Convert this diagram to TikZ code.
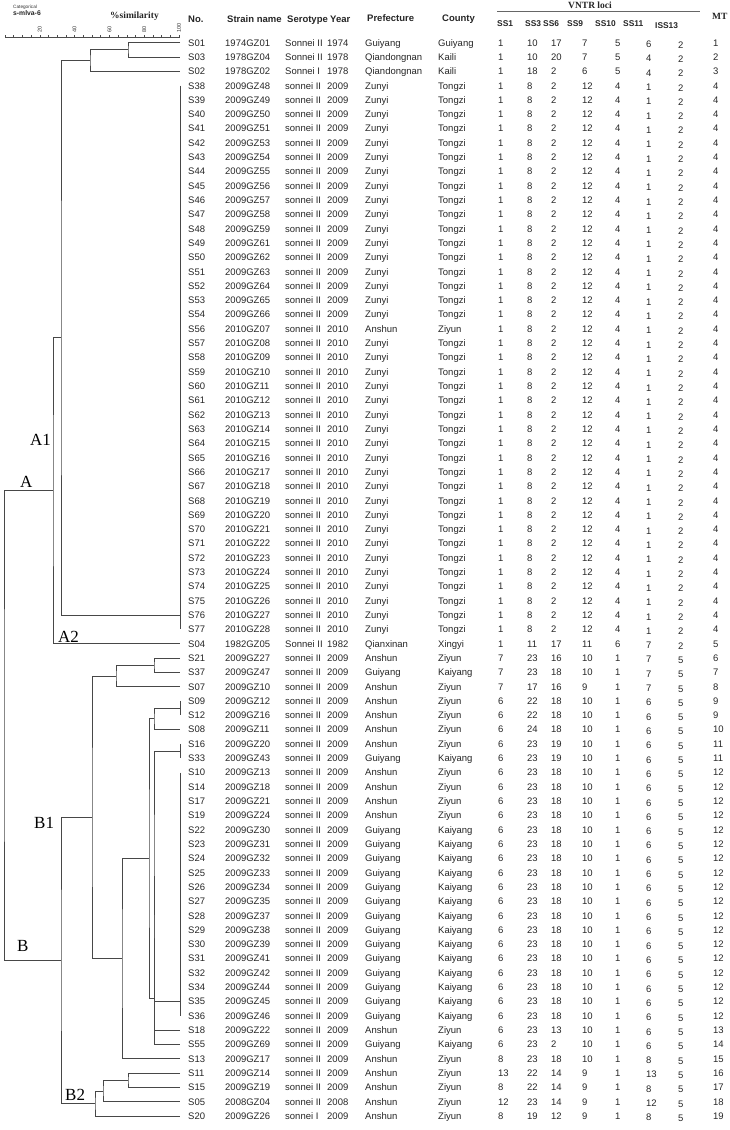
\documentclass[tikz,border=0pt]{standalone}
\usepackage{fontspec}
\setmainfont{Liberation Sans}
\newfontfamily\serifz{Liberation Serif}
\newcommand\elbow[3]{\draw[dend] (#1) -| (#2) |- (#3);}
\begin{document}
\begin{tikzpicture}[x=1pt,y=-1pt,
  dend/.style={draw=black!72,line width=0.8pt},
  cell/.style={anchor=base west,inner sep=0pt,font=\fontsize{9.5}{11}\selectfont,text=black!85},
  hd/.style={anchor=base west,inner sep=0pt,font=\fontsize{9.5}{11}\selectfont\bfseries,text=black!85},
  lhd/.style={anchor=base west,inner sep=0pt,font=\fontsize{8.4}{10}\selectfont\bfseries,text=black!85},
  shd/.style={anchor=base west,inner sep=0pt,font=\serifz\fontsize{9.5}{11}\selectfont\bfseries,text=black!85},
  clab/.style={anchor=base west,inner sep=0pt,font=\serifz\fontsize{17}{17}\selectfont,text=black},
  axl/.style={anchor=west,inner sep=0pt,rotate=90,font=\fontsize{5.5}{6}\selectfont,text=black!80}]
\useasboundingbox (0,0) rectangle (730,1130);
% ---------- header ----------
\node[anchor=base west,inner sep=0pt,font=\fontsize{4.7}{5}\selectfont,text=black!80] (cat) at (13,8) {Categorical};
\node[anchor=base west,inner sep=0pt,font=\fontsize{6.8}{7}\selectfont\bfseries,text=black!85] (mlva) at (13,15) {s-mlva-6};
\node[shd] (sim) at (110,18) {\%similarity};
\coordinate (ax0) at (5,37);
\coordinate (ax1) at (180,37);
\draw[black!70,line width=0.5pt] (ax0) -- (ax1);
\foreach \k in {0,...,20} {\draw[black!70,line width=0.5pt] ({5+\k*8.7},37) -- ({5+\k*8.7},35);}
\foreach \v in {20,40,60,80,100} {\node[axl] (ax\v) at ({5+\v*1.74},33) {\v};}
\node[hd] (hno) at (188,22) {No.};
\node[hd] (hsn) at (227,22) {Strain name};
\node[hd] (hst) at (287,22) {Serotype};
\node[hd] (hyr) at (330,22) {Year};
\node[hd] (hpf) at (367,21) {Prefecture};
\node[hd] (hct) at (442,21) {County};
\node[shd] (hvn) at (568,8) {VNTR loci};
\coordinate (vl0) at (497,11);
\coordinate (vl1) at (700,11);
\draw[black!60,line width=0.7pt] (vl0) -- (vl1);
\node[shd] (hmt) at (712,19) {MT};
\node[lhd] (h1) at (497,26) {SS1};
\node[lhd] (h2) at (525,26) {SS3};
\node[lhd] (h3) at (543,26) {SS6};
\node[lhd] (h4) at (567,26) {SS9};
\node[lhd] (h5) at (595,26.5) {SS10};
\node[lhd] (h6) at (623,26.5) {SS11};
\node[lhd] (h7) at (655,28.5) {ISS13};
% ---------- table ----------
\foreach \nn/\sn/\st/\yr/\pf/\ct/\va/\vb/\vc/\vd/\ve/\vf/\vg/\mt [count=\i] in {
S01/1974GZ01/Sonnei II/1974/Guiyang/Guiyang/1/10/17/7/5/6/2/1,
S03/1978GZ04/Sonnei II/1978/Qiandongnan/Kaili/1/10/20/7/5/4/2/2,
S02/1978GZ02/Sonnei I/1978/Qiandongnan/Kaili/1/18/2/6/5/4/2/3,
S38/2009GZ48/sonnei II/2009/Zunyi/Tongzi/1/8/2/12/4/1/2/4,
S39/2009GZ49/sonnei II/2009/Zunyi/Tongzi/1/8/2/12/4/1/2/4,
S40/2009GZ50/sonnei II/2009/Zunyi/Tongzi/1/8/2/12/4/1/2/4,
S41/2009GZ51/sonnei II/2009/Zunyi/Tongzi/1/8/2/12/4/1/2/4,
S42/2009GZ53/sonnei II/2009/Zunyi/Tongzi/1/8/2/12/4/1/2/4,
S43/2009GZ54/sonnei II/2009/Zunyi/Tongzi/1/8/2/12/4/1/2/4,
S44/2009GZ55/sonnei II/2009/Zunyi/Tongzi/1/8/2/12/4/1/2/4,
S45/2009GZ56/sonnei II/2009/Zunyi/Tongzi/1/8/2/12/4/1/2/4,
S46/2009GZ57/sonnei II/2009/Zunyi/Tongzi/1/8/2/12/4/1/2/4,
S47/2009GZ58/sonnei II/2009/Zunyi/Tongzi/1/8/2/12/4/1/2/4,
S48/2009GZ59/sonnei II/2009/Zunyi/Tongzi/1/8/2/12/4/1/2/4,
S49/2009GZ61/sonnei II/2009/Zunyi/Tongzi/1/8/2/12/4/1/2/4,
S50/2009GZ62/sonnei II/2009/Zunyi/Tongzi/1/8/2/12/4/1/2/4,
S51/2009GZ63/sonnei II/2009/Zunyi/Tongzi/1/8/2/12/4/1/2/4,
S52/2009GZ64/sonnei II/2009/Zunyi/Tongzi/1/8/2/12/4/1/2/4,
S53/2009GZ65/sonnei II/2009/Zunyi/Tongzi/1/8/2/12/4/1/2/4,
S54/2009GZ66/sonnei II/2009/Zunyi/Tongzi/1/8/2/12/4/1/2/4,
S56/2010GZ07/sonnei II/2010/Anshun/Ziyun/1/8/2/12/4/1/2/4,
S57/2010GZ08/sonnei II/2010/Zunyi/Tongzi/1/8/2/12/4/1/2/4,
S58/2010GZ09/sonnei II/2010/Zunyi/Tongzi/1/8/2/12/4/1/2/4,
S59/2010GZ10/sonnei II/2010/Zunyi/Tongzi/1/8/2/12/4/1/2/4,
S60/2010GZ11/sonnei II/2010/Zunyi/Tongzi/1/8/2/12/4/1/2/4,
S61/2010GZ12/sonnei II/2010/Zunyi/Tongzi/1/8/2/12/4/1/2/4,
S62/2010GZ13/sonnei II/2010/Zunyi/Tongzi/1/8/2/12/4/1/2/4,
S63/2010GZ14/sonnei II/2010/Zunyi/Tongzi/1/8/2/12/4/1/2/4,
S64/2010GZ15/sonnei II/2010/Zunyi/Tongzi/1/8/2/12/4/1/2/4,
S65/2010GZ16/sonnei II/2010/Zunyi/Tongzi/1/8/2/12/4/1/2/4,
S66/2010GZ17/sonnei II/2010/Zunyi/Tongzi/1/8/2/12/4/1/2/4,
S67/2010GZ18/sonnei II/2010/Zunyi/Tongzi/1/8/2/12/4/1/2/4,
S68/2010GZ19/sonnei II/2010/Zunyi/Tongzi/1/8/2/12/4/1/2/4,
S69/2010GZ20/sonnei II/2010/Zunyi/Tongzi/1/8/2/12/4/1/2/4,
S70/2010GZ21/sonnei II/2010/Zunyi/Tongzi/1/8/2/12/4/1/2/4,
S71/2010GZ22/sonnei II/2010/Zunyi/Tongzi/1/8/2/12/4/1/2/4,
S72/2010GZ23/sonnei II/2010/Zunyi/Tongzi/1/8/2/12/4/1/2/4,
S73/2010GZ24/sonnei II/2010/Zunyi/Tongzi/1/8/2/12/4/1/2/4,
S74/2010GZ25/sonnei II/2010/Zunyi/Tongzi/1/8/2/12/4/1/2/4,
S75/2010GZ26/sonnei II/2010/Zunyi/Tongzi/1/8/2/12/4/1/2/4,
S76/2010GZ27/sonnei II/2010/Zunyi/Tongzi/1/8/2/12/4/1/2/4,
S77/2010GZ28/sonnei II/2010/Zunyi/Tongzi/1/8/2/12/4/1/2/4,
S04/1982GZ05/Sonnei II/1982/Qianxinan/Xingyi/1/11/17/11/6/7/2/5,
S21/2009GZ27/sonnei II/2009/Anshun/Ziyun/7/23/16/10/1/7/5/6,
S37/2009GZ47/sonnei II/2009/Guiyang/Kaiyang/7/23/18/10/1/7/5/7,
S07/2009GZ10/sonnei II/2009/Anshun/Ziyun/7/17/16/9/1/7/5/8,
S09/2009GZ12/sonnei II/2009/Anshun/Ziyun/6/22/18/10/1/6/5/9,
S12/2009GZ16/sonnei II/2009/Anshun/Ziyun/6/22/18/10/1/6/5/9,
S08/2009GZ11/sonnei II/2009/Anshun/Ziyun/6/24/18/10/1/6/5/10,
S16/2009GZ20/sonnei II/2009/Anshun/Ziyun/6/23/19/10/1/6/5/11,
S33/2009GZ43/sonnei II/2009/Guiyang/Kaiyang/6/23/19/10/1/6/5/11,
S10/2009GZ13/sonnei II/2009/Anshun/Ziyun/6/23/18/10/1/6/5/12,
S14/2009GZ18/sonnei II/2009/Anshun/Ziyun/6/23/18/10/1/6/5/12,
S17/2009GZ21/sonnei II/2009/Anshun/Ziyun/6/23/18/10/1/6/5/12,
S19/2009GZ24/sonnei II/2009/Anshun/Ziyun/6/23/18/10/1/6/5/12,
S22/2009GZ30/sonnei II/2009/Guiyang/Kaiyang/6/23/18/10/1/6/5/12,
S23/2009GZ31/sonnei II/2009/Guiyang/Kaiyang/6/23/18/10/1/6/5/12,
S24/2009GZ32/sonnei II/2009/Guiyang/Kaiyang/6/23/18/10/1/6/5/12,
S25/2009GZ33/sonnei II/2009/Guiyang/Kaiyang/6/23/18/10/1/6/5/12,
S26/2009GZ34/sonnei II/2009/Guiyang/Kaiyang/6/23/18/10/1/6/5/12,
S27/2009GZ35/sonnei II/2009/Guiyang/Kaiyang/6/23/18/10/1/6/5/12,
S28/2009GZ37/sonnei II/2009/Guiyang/Kaiyang/6/23/18/10/1/6/5/12,
S29/2009GZ38/sonnei II/2009/Guiyang/Kaiyang/6/23/18/10/1/6/5/12,
S30/2009GZ39/sonnei II/2009/Guiyang/Kaiyang/6/23/18/10/1/6/5/12,
S31/2009GZ41/sonnei II/2009/Guiyang/Kaiyang/6/23/18/10/1/6/5/12,
S32/2009GZ42/sonnei II/2009/Guiyang/Kaiyang/6/23/18/10/1/6/5/12,
S34/2009GZ44/sonnei II/2009/Guiyang/Kaiyang/6/23/18/10/1/6/5/12,
S35/2009GZ45/sonnei II/2009/Guiyang/Kaiyang/6/23/18/10/1/6/5/12,
S36/2009GZ46/sonnei II/2009/Guiyang/Kaiyang/6/23/18/10/1/6/5/12,
S18/2009GZ22/sonnei II/2009/Anshun/Ziyun/6/23/13/10/1/6/5/13,
S55/2009GZ69/sonnei II/2009/Guiyang/Kaiyang/6/23/2/10/1/6/5/14,
S13/2009GZ17/sonnei II/2009/Anshun/Ziyun/8/23/18/10/1/8/5/15,
S11/2009GZ14/sonnei II/2009/Anshun/Ziyun/13/22/14/9/1/13/5/16,
S15/2009GZ19/sonnei II/2009/Anshun/Ziyun/8/22/14/9/1/8/5/17,
S05/2008GZ04/sonnei II/2008/Anshun/Ziyun/12/23/14/9/1/12/5/18,
S20/2009GZ26/sonnei I/2009/Anshun/Ziyun/8/19/12/9/1/8/5/19} {
  \pgfmathsetmacro\ry{42.7+(\i-1)*14.31}
  \pgfmathsetmacro\rb{\ry+3.4}
  \coordinate (L\i) at (180,\ry);
  \node[cell] (no\i) at (188,\rb) {\nn};
  \node[cell] (sn\i) at (225,\rb) {\sn};
  \node[cell] (st\i) at (285,\rb) {\st};
  \node[cell] (yr\i) at (327,\rb) {\yr};
  \node[cell] (pf\i) at (365,\rb) {\pf};
  \node[cell] (ct\i) at (438,\rb) {\ct};
  \node[cell] (va\i) at (498,\rb) {\va};
  \node[cell] (vb\i) at (527,\rb) {\vb};
  \node[cell] (vc\i) at (551,\rb) {\vc};
  \node[cell] (vd\i) at (582,\rb) {\vd};
  \node[cell] (ve\i) at (615,\rb) {\ve};
  \node[cell] (vf\i) at (646,\rb+1.5) {\vf};
  \node[cell] (vg\i) at (678,\rb+2) {\vg};
  \node[cell] (mt\i) at (713,\rb) {\mt};
}
% ---------- dendrogram ----------
\coordinate (n1) at (128,49.86);
\coordinate (n2) at (90,60.59);
\coordinate (I1) at (180,615.1);
\coordinate (nA1) at (61,337.85);
\coordinate (nA) at (53,490.78);
\coordinate (n3) at (154,665.19);
\coordinate (n4) at (116,675.92);
\coordinate (I2) at (180,708.12);
\coordinate (n5) at (154,718.85);
\coordinate (I3) at (180,751.05);
\coordinate (I4) at (180,1001.47);
\coordinate (c1) at (154,876.26);
\coordinate (c2) at (154,953.18);
\coordinate (c3) at (154,998.79);
\coordinate (n6) at (149,858.82);
\coordinate (n7) at (122,958.77);
\coordinate (nB1) at (92,817.34);
\coordinate (n8) at (128,1080.18);
\coordinate (n9) at (103,1090.91);
\coordinate (nB2) at (95,1103.43);
\coordinate (nB) at (61,960.39);
\coordinate (root) at (4,725.585);
% identical groups
\draw[dend] (L4) -- (L42);
\draw[dend] (L47) -- (L48);
\draw[dend] (L50) -- (L51);
\draw[dend] (L52) -- (L69);
% joins
\elbow{L1}{n1}{L2}
\elbow{n1}{n2}{L3}
\elbow{n2}{nA1}{I1}
\elbow{nA1}{nA}{L43}
\elbow{nA}{root}{nB}
\elbow{L44}{n3}{L45}
\elbow{n3}{n4}{L46}
\elbow{I2}{n5}{L49}
\elbow{I3}{c1}{I4}
\elbow{c1}{c2}{L70}
\elbow{c2}{c3}{L71}
\elbow{n5}{n6}{c3}
\elbow{n6}{n7}{L72}
\elbow{n4}{nB1}{n7}
\elbow{L73}{n8}{L74}
\elbow{n8}{n9}{L75}
\elbow{n9}{nB2}{L76}
\elbow{nB1}{nB}{nB2}
% cluster labels
\node[clab] (lA1) at (30,445) {A1};
\node[clab] (lA) at (20,487) {A};
\node[clab] (lA2) at (58,642) {A2};
\node[clab] (lB1) at (34,828) {B1};
\node[clab] (lB) at (17,951) {B};
\node[clab] (lB2) at (65,1100) {B2};
\end{tikzpicture}
\end{document}
